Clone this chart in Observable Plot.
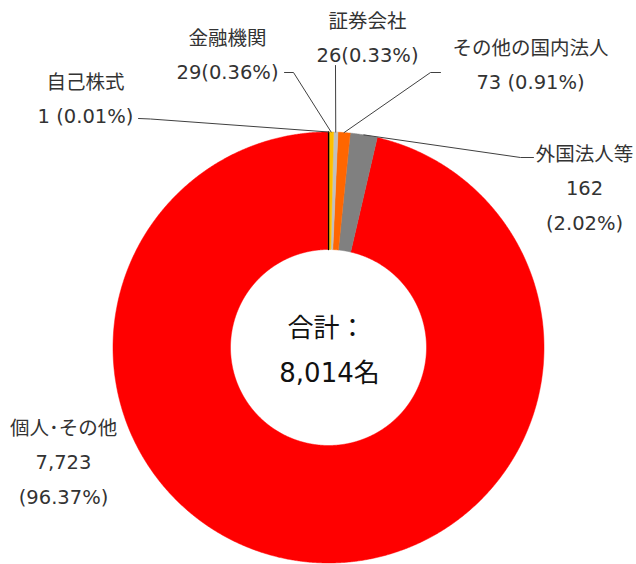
<!DOCTYPE html>
<html>
<head>
<meta charset="utf-8">
<script src="https://cdn.jsdelivr.net/npm/d3@7"></script>
<script src="https://cdn.jsdelivr.net/npm/@observablehq/plot@0.6"></script>
<style>
  html, body { margin: 0; padding: 0; background: #fff; }
</style>
</head>
<body>
<div id="chart"></div>
<script>
// ---- data ----
const categories = ["自己株式", "金融機関", "証券会社", "その他の国内法人", "外国法人等", "個人･その他"];
const values = [1, 29, 26, 73, 162, 7723];
const valueLabels = ["1 (0.01%)", "29(0.36%)", "26(0.33%)", "73 (0.91%)", "162\n(2.02%)", "7,723\n(96.37%)"];
const colors = ["#000000", "#FFC000", "#C0C0C0", "#FF6600", "#808080", "#FF0000"];
const totalLines = ["合計：", "8,014名"];

// ---- layout (pixels) ----
const W = 636, H = 564, CX = 328, CY = 347, R = 215.5, R0 = 98;
const labelLayout = [[85, 95], [227, 50.5], [367, 33.5], [530, 61], [584, 184], [63, 458]];
const leaderLayout = [
  [[138, 118], [150, 118.5]],
  [[284, 72], [293, 72]],
  [[335, 65]],
  [[440, 72], [430, 72]],
  [[533, 157], [520, 157]],
  null
];
const centerLayout = [[326, 328], [329, 373]];

const ux = px => (px - CX) / R;
const uy = py => (CY - py) / R;

// ---- slices ----
const arcs = d3.pie().sort(null).startAngle(0).endAngle(2 * Math.PI)(values);
const slices = arcs.map((a, i) => {
  const n = Math.max(2, Math.ceil((a.endAngle - a.startAngle) / 0.005));
  const pts = [];
  for (let k = 0; k <= n; k++) {
    const t = a.startAngle + (a.endAngle - a.startAngle) * k / n;
    pts.push({x: Math.sin(t), y: Math.cos(t)});
  }
  for (let k = n; k >= 0; k--) {
    const t = a.startAngle + (a.endAngle - a.startAngle) * k / n;
    pts.push({x: Math.sin(t) * R0 / R, y: Math.cos(t) * R0 / R});
  }
  return {i, pts, mid: (a.startAngle + a.endAngle) / 2};
});

// leader lines
const leaders = [];
slices.forEach(s => {
  const lay = leaderLayout[s.i];
  if (!lay) return;
  lay.forEach(([px, py]) => leaders.push({k: s.i, x: ux(px), y: uy(py)}));
  leaders.push({k: s.i, x: Math.sin(s.mid), y: Math.cos(s.mid)});
});

// labels
const labels = categories.map((c, i) => ({
  text: c + "\n" + valueLabels[i],
  x: ux(labelLayout[i][0]),
  y: uy(labelLayout[i][1])
}));
const centerTexts = totalLines.map((t, i) => ({text: t, x: ux(centerLayout[i][0]), y: uy(centerLayout[i][1])}));

const FONT = "'DejaVu Sans', 'Noto Sans CJK JP', sans-serif";

const marks = [];
const order = [5, 4, 3, 2, 1, 0];
order.forEach(i => {
  const s = slices[i];
  marks.push(Plot.line(s.pts, {
    x: "x", y: "y", curve: "linear-closed",
    fill: colors[i],
    stroke: colors[i],
    strokeWidth: i === 0 ? 1.3 : 0.5
  }));
});
marks.push(Plot.line(leaders, {x: "x", y: "y", z: "k", stroke: "#404040", strokeWidth: 1}));
marks.push(Plot.text(labels, {
  x: "x", y: "y", text: "text", fontSize: 19.5, lineHeight: 1.75,
  lineAnchor: "middle", textAnchor: "middle", fill: "#333", fontFamily: FONT
}));
marks.push(Plot.text(centerTexts, {
  x: "x", y: "y", text: "text", fontSize: 26, lineAnchor: "middle",
  textAnchor: "middle", fill: "#111", fontFamily: FONT
}));

const chart = Plot.plot({
  width: W,
  height: H,
  margin: 0,
  x: {domain: [ux(0), ux(W)], axis: null},
  y: {domain: [uy(H), uy(0)], axis: null},
  style: {fontFamily: FONT, background: "#fff"},
  marks
});
document.getElementById("chart").appendChild(chart);
</script>
</body>
</html>
